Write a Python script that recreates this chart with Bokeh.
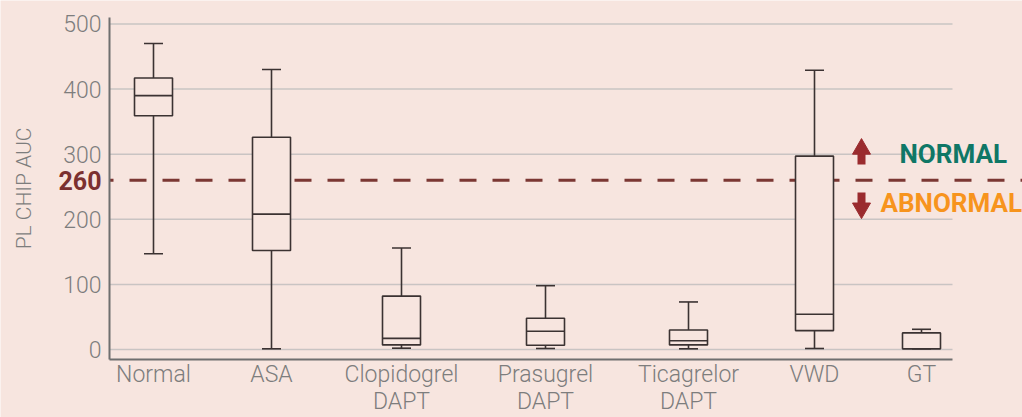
import numpy as np
from bokeh.plotting import figure
from bokeh.models import Range1d, FixedTicker, LinearAxis
from bokeh.embed import file_html
from bokeh.resources import INLINE
from bokeh.core.properties import value

# ---- data ----
categories = ["Normal", "ASA", "Clopidogrel\nDAPT", "Prasugrel\nDAPT",
              "Ticagrelor\nDAPT", "VWD", "GT"]
lower = [147, 1, 2, 1.5, 1, 1.5, 1]
q1 = [359, 152, 7, 6.5, 7, 29, 1]
median = [390, 208, 17, 28, 13.5, 54, 1]
q3 = [417, 326, 82, 48, 30, 297, 25.5]
upper = [470, 430, 156, 98, 73, 429, 31]
y_ticks = [0, 100, 200, 300, 400, 500]
threshold = 260
y_title = "PL CHIP AUC"
zone_labels = ["NORMAL", "ABNORMAL"]

# ---- layout (positions / sizes) ----
x_pos = np.array([44, 162, 292, 436, 579, 705, 812], dtype=float)
box_w = 38
cap_w = 19
grid_end = 843
axis_base = -15.4
axis_top = 510
BG = "#f7e5df"
FONT = "Roboto Light, Roboto, sans-serif"
BFONT = "Roboto, sans-serif"
TICK_C = "#7d7d7d"
AXIS_C = "#6f6f6f"

p = figure(width=1022, height=417, output_backend="svg", toolbar_location=None,
           x_range=Range1d(-109, 913), y_range=Range1d(-104.5, 536.1),
           min_border_left=0, min_border_top=0, min_border_right=0,
           min_border_bottom=0)
p.background_fill_color = BG
p.border_fill_color = BG
p.outline_line_color = None
p.xgrid.visible = False
p.ygrid.visible = False

# y axis (drawn at the left edge of the plotting area)
ya = p.yaxis[0]
ya.fixed_location = 0
ya.ticker = FixedTicker(ticks=y_ticks)
ya.bounds = (axis_base, axis_top)
ya.major_label_text_font = FONT
ya.major_label_text_font_size = "23px"
ya.major_label_text_color = TICK_C
ya.major_label_standoff = 8
ya.major_tick_line_color = None
ya.major_tick_out = 0
ya.major_tick_in = 0
ya.minor_tick_line_color = None
ya.axis_line_color = AXIS_C
ya.axis_line_width = 2

# threshold value shown on the y axis
ta = LinearAxis(ticker=FixedTicker(ticks=[threshold]), fixed_location=0,
                axis_line_color=None, major_tick_line_color=None, minor_tick_line_color=None,
                major_tick_out=0, major_tick_in=0, major_label_standoff=8,
                major_label_text_font=BFONT, major_label_text_font_style="bold",
                major_label_text_font_size="25px", major_label_text_color="#7b3030")
p.add_layout(ta, "left")

# y axis title
p.text(x=[-86], y=[(axis_base + axis_top) / 2], text=[y_title], angle=np.pi / 2,
       text_font=value(FONT), text_font_size="21px", text_color=TICK_C,
       text_align="center", text_baseline="middle")

# x axis
xa = p.xaxis[0]
xa.ticker = FixedTicker(ticks=list(x_pos))
xa.major_label_overrides = {float(x): c for x, c in zip(x_pos, categories)}
xa.fixed_location = axis_base
xa.bounds = (0, grid_end)
xa.major_label_text_font = FONT
xa.major_label_text_font_size = "23px"
xa.major_label_text_color = TICK_C
xa.major_label_text_line_height = 1.0
xa.major_label_standoff = 1
xa.major_tick_line_color = None
xa.major_tick_out = 0
xa.major_tick_in = 0
xa.minor_tick_line_color = None
xa.axis_line_color = AXIS_C
xa.axis_line_width = 2

# grid lines (only up to the end of the plot area)
p.segment(x0=0, x1=grid_end, y0=y_ticks, y1=y_ticks, line_color="#c9c4c3", line_width=1.5)

# threshold line
p.segment(x0=[0], x1=[913], y0=[threshold], y1=[threshold], line_color="#7b3733",
          line_width=2.8, line_dash="17 16", line_dash_offset=13)

BOX = "#3b3232"
# whiskers
p.segment(x0=x_pos, x1=x_pos, y0=q3, y1=upper, line_color=BOX, line_width=1.6)
p.segment(x0=x_pos, x1=x_pos, y0=lower, y1=q1, line_color=BOX, line_width=1.6)
p.segment(x0=x_pos - cap_w / 2, x1=x_pos + cap_w / 2, y0=upper, y1=upper, line_color=BOX, line_width=1.6)
p.segment(x0=x_pos - cap_w / 2, x1=x_pos + cap_w / 2, y0=lower, y1=lower, line_color=BOX, line_width=1.6)
# boxes
p.vbar(x=x_pos, width=box_w, bottom=q1, top=q3, fill_color=BG, line_color=BOX, line_width=1.6)
# medians
p.segment(x0=x_pos - box_w / 2, x1=x_pos + box_w / 2, y0=median, y1=median, line_color=BOX, line_width=1.6)

# arrows and zone labels
ARROW = "#9a2b2e"
ax = 752
p.segment(x0=[ax], x1=[ax], y0=[284], y1=[302], line_color=ARROW, line_width=8)
p.scatter(x=[ax], y=[308], marker="triangle", size=18, fill_color=ARROW, line_color=ARROW)
p.segment(x0=[ax], x1=[ax], y0=[241], y1=[223], line_color=ARROW, line_width=8)
p.scatter(x=[ax], y=[217], marker="inverted_triangle", size=18, fill_color=ARROW, line_color=ARROW)

p.text(x=[790], y=[300], text=[zone_labels[0]], text_font=value(BFONT), text_font_style="bold",
       text_font_size="26px", text_color="#0f7766", text_baseline="middle")
p.text(x=[771], y=[225], text=[zone_labels[1]], text_font=value(BFONT), text_font_style="bold",
       text_font_size="26px", text_color="#f7941d", text_baseline="middle")

open("out.html", "w").write(file_html(p, INLINE))
